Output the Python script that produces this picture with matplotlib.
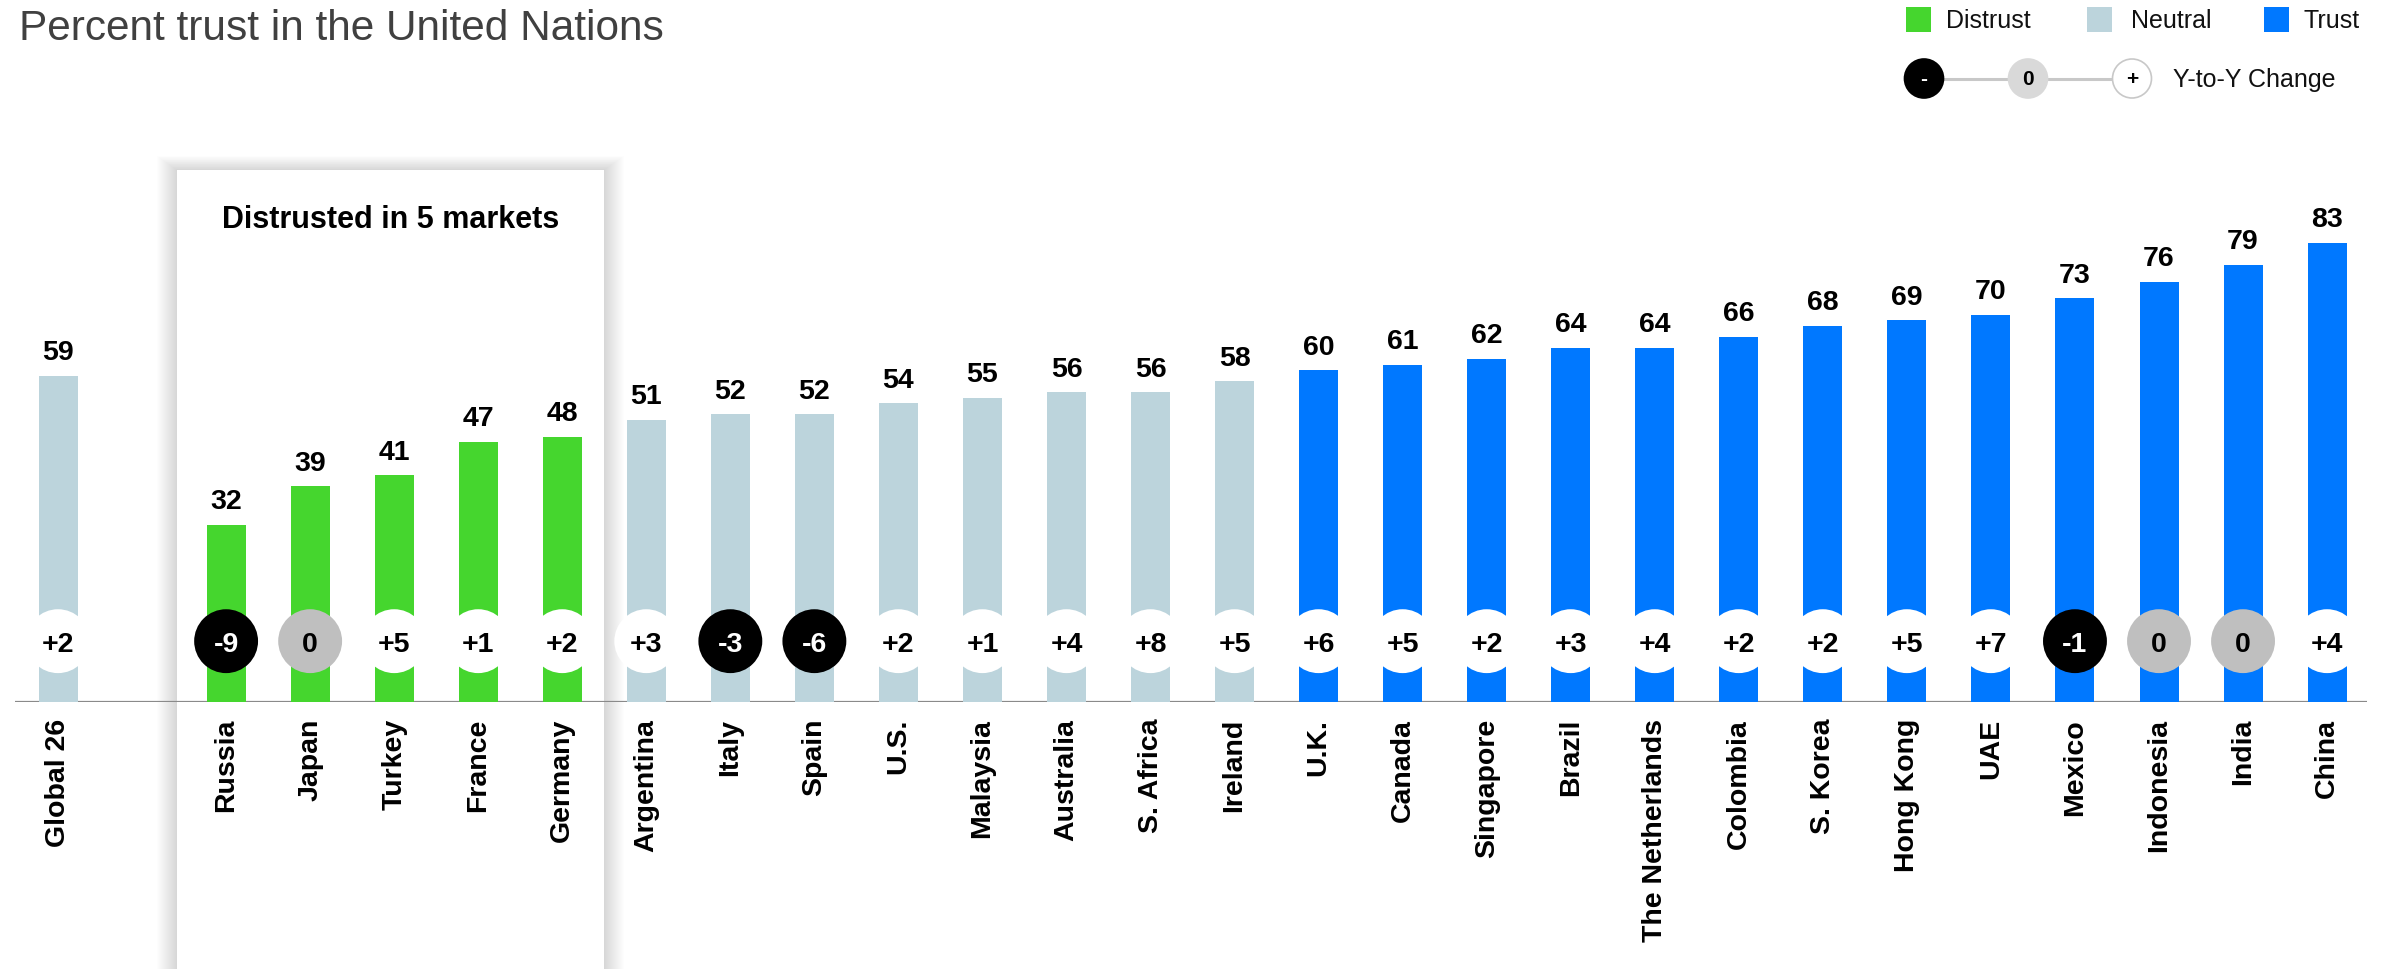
import matplotlib
matplotlib.use("Agg")
import matplotlib.pyplot as plt
import matplotlib.patches as patches

plt.rcParams["font.family"] = ["Liberation Sans", "DejaVu Sans"]

# data
countries = ["Global 26", "Russia", "Japan", "Turkey", "France", "Germany",
             "Argentina", "Italy", "Spain", "U.S.", "Malaysia", "Australia",
             "S. Africa", "Ireland", "U.K.", "Canada", "Singapore", "Brazil",
             "The Netherlands", "Colombia", "S. Korea", "Hong Kong", "UAE",
             "Mexico", "Indonesia", "India", "China"]
trust = [59, 32, 39, 41, 47, 48, 51, 52, 52, 54, 55, 56, 56, 58, 60, 61, 62,
         64, 64, 66, 68, 69, 70, 73, 76, 79, 83]
change = [2, -9, 0, 5, 1, 2, 3, -3, -6, 2, 1, 4, 8, 5, 6, 5, 2, 3, 4, 2, 2,
          5, 7, -1, 0, 0, 4]
group = ["Neutral"] + ["Distrust"] * 5 + ["Neutral"] * 8 + ["Trust"] * 13

group_colors = {"Distrust": "#45d62e", "Neutral": "#bcd4dc", "Trust": "#0078ff"}

W, H = 2394, 970
fig = plt.figure(figsize=(W / 100, H / 100), dpi=100)
fig.patch.set_facecolor("white")

xpos = [0] + list(range(2, len(countries) + 1))

ax = fig.add_axes([15 / W, (H - 703) / H, 2352 / W, 553 / H])
ax.set_xlim(-0.512, 27.475)
ax.set_ylim(0, 100)
for s in ax.spines.values():
    s.set_visible(False)
ax.set_yticks([])

# px -> data helpers
px_x = 27.987 / 2352
px_y = 100 / 553

# highlighted box with soft shadow
bx0, bx1 = 1.416, 6.497
by0, by1 = -60, 96.2
for i in range(20, 0, -1):
    ax.add_patch(patches.Rectangle(
        (bx0 - i * px_x, by0), (bx1 - bx0) + 2 * i * px_x, (by1 - by0) + 0.7 * i * px_y,
        facecolor="black", edgecolor="none", alpha=0.008, clip_on=False, zorder=0.8))
ax.add_patch(patches.Rectangle((bx0, by0), bx1 - bx0, by1 - by0,
                               facecolor="white", edgecolor="none",
                               clip_on=False, zorder=1))
ax.text((bx0 + bx1) / 2, 87.3, "Distrusted in 5 markets", ha="center",
        va="center", fontsize=22, fontweight="bold", color="black", zorder=5)

ax.axhline(0, color="#8a8a8a", lw=1.6, zorder=3)

ax.bar(xpos, trust, width=0.464, color=[group_colors[g] for g in group],
       zorder=4)

for x, v in zip(xpos, trust):
    ax.annotate(str(v), (x, v), xytext=(0, 12), textcoords="offset points",
                ha="center", va="baseline", fontsize=20.5, fontweight="bold",
                color="black", zorder=6)

circ_fc = ["black" if c < 0 else ("#bfbfbf" if c == 0 else "white") for c in change]
ax.scatter(xpos, [11] * len(xpos), s=46 ** 2, c=circ_fc, edgecolors="none",
           zorder=5, clip_on=False)
for x, c in zip(xpos, change):
    lab = f"+{c}" if c > 0 else str(c)
    ax.text(x, 11, lab, ha="center", va="center_baseline", fontsize=20.5,
            fontweight="bold", color="white" if c < 0 else "black", zorder=6)

ax.set_xticks(xpos)
ax.set_xticklabels(countries, rotation=90, fontsize=20.5, fontweight="bold")
ax.tick_params(axis="x", length=0, pad=11.5)
ax.xaxis.set_zorder(2)

# title
fig.text(19 / W, 1 - 29 / H, "Percent trust in the United Nations",
         fontsize=30.5, color="#404040", ha="left", va="center")

# legend drawn in pixel space
lax = fig.add_axes([1880 / W, 1 - 110 / H, 514 / W, 110 / H])
lax.set_xlim(1880, 2394)
lax.set_ylim(110, 0)
lax.axis("off")
for (name, col), (sx, tx) in zip(group_colors.items(),
                                 [(1906, 1946), (2087, 2131), (2264, 2304)]):
    lax.add_patch(patches.Rectangle((sx, 8), 25, 25, facecolor=col,
                                    edgecolor="none"))
    lax.text(tx, 21, name, fontsize=18, va="center", ha="left", color="#111111")
lax.plot([1924, 2132], [79.5, 79.5], color="#c8c8c8", lw=2.2, zorder=1)
for cx, fc, ec, sym, tc in [(1924, "black", "black", "-", "white"),
                            (2028, "#d9d9d9", "#d9d9d9", "0", "black"),
                            (2132, "white", "#c8c8c8", "+", "black")]:
    lax.add_patch(patches.Circle((cx, 79.5), 19.5, facecolor=fc, edgecolor=ec,
                                 lw=1.2, zorder=2))
    lax.text(cx, 79.5, sym, fontsize=15, fontweight="bold", color=tc,
             ha="center", va="center", zorder=3)
lax.text(2173, 80, "Y-to-Y Change", fontsize=18, va="center", ha="left",
         color="#111111")

fig.savefig("out.png", dpi=100, facecolor="white")
